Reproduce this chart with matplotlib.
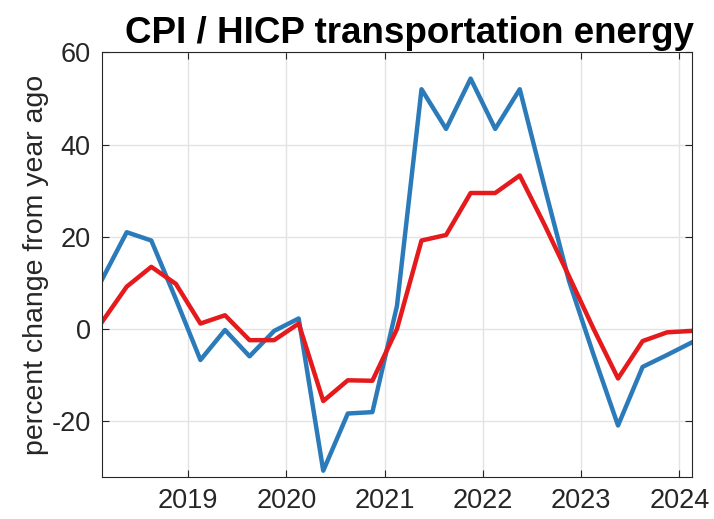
import matplotlib.pyplot as plt
import pandas as pd

plt.rcParams["font.family"] = ["Liberation Sans", "DejaVu Sans"]
plt.rcParams["axes.unicode_minus"] = False

# quarterly observations, 2018Q1 - 2024Q1
quarters = pd.period_range("2018Q1", "2024Q1", freq="Q")
# US CPI transportation energy (blue), euro area HICP (red), % y/y
cpi = [10.8, 21.0, 19.2, 6.5, -6.7, -0.2, -5.9, -0.4, 2.3, -30.7, -18.3, -18.0, 5.0,
       52.0, 43.4, 54.3, 43.4, 52.0, 31.0, 10.5, -5.5, -20.9, -8.2, -5.6, -2.9]
hicp = [1.6, 9.2, 13.5, 9.8, 1.2, 3.0, -2.4, -2.4, 1.2, -15.6, -11.1, -11.2, 0.0,
        19.2, 20.4, 29.5, 29.5, 33.3, 22.7, 11.5, 0.1, -10.7, -2.6, -0.7, -0.4]
year_ticks = [2019, 2020, 2021, 2022, 2023, 2024]

# mid-quarter date as decimal year
x = quarters.year + (quarters.quarter - 1) * 0.25 + 0.125

fig = plt.figure(figsize=(7.14, 5.19), dpi=100)
ax = fig.add_axes([0.1424, 0.0815, 0.8264, 0.8177])

ax.plot(x, cpi, color="#2b7bba", lw=3.2)
ax.plot(x, hicp, color="#e41a1c", lw=3.2)

ax.set_xlim(2018.12, 2024.125)
ax.set_ylim(-32, 60)
ax.set_xticks(year_ticks)
ax.set_xticklabels([str(y) for y in year_ticks])
ax.set_yticks([-20, 0, 20, 40, 60])

dark = "#262626"
ax.grid(True, color="#e3e3e3", lw=1)
ax.set_axisbelow(True)
ax.tick_params(direction="in", length=5, width=0.8, colors=dark, labelsize=19.5,
               top=True, right=True, pad=8)
for s in ax.spines.values():
    s.set_color(dark)
    s.set_linewidth(0.8)

ax.set_ylabel("percent change from year ago", fontsize=20.5, color=dark, labelpad=2)
ax.set_title("CPI / HICP transportation energy", fontsize=26.5, fontweight="bold",
             x=0.522, pad=7)

plt.savefig("out.png", dpi=100)
